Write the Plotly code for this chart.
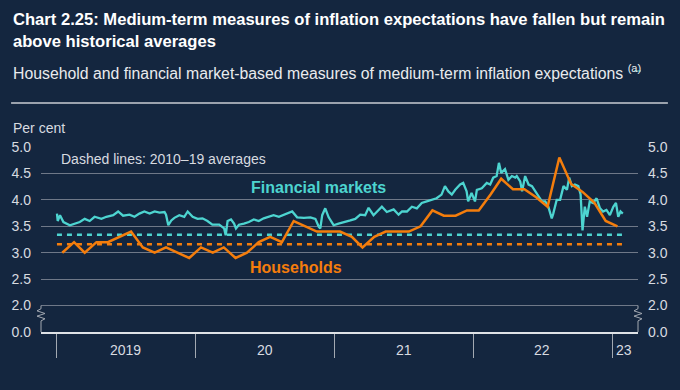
import plotly.graph_objects as go

# ---------------- data ----------------
hh_months = [f"{y}-{m:02d}-15" for y in range(2019, 2023) for m in range(1, 13)] + ["2023-01-15"]
hh_values = [3.0, 3.2, 3.0, 3.2, 3.2, 3.3, 3.4, 3.1, 3.0, 3.1, 3.0, 2.9,
             3.1, 3.0, 3.1, 2.9, 3.0, 3.2, 3.3, 3.2, 3.6, 3.5, 3.4, 3.4,
             3.4, 3.3, 3.1, 3.3, 3.4, 3.4, 3.4, 3.5, 3.8, 3.7, 3.7, 3.8,
             3.8, 4.1, 4.4, 4.2, 4.2, 4.05, 3.87, 4.8, 4.3, 4.15, 3.95, 3.6,
             3.5]

fm_dates = [
    "2019-01-01", "2019-01-03", "2019-01-09", "2019-01-18", "2019-02-04", "2019-02-17", "2019-03-02",
    "2019-03-15", "2019-03-28", "2019-04-10", "2019-04-28", "2019-05-11", "2019-05-29", "2019-06-11",
    "2019-06-24", "2019-07-11", "2019-07-24", "2019-08-06", "2019-08-19", "2019-09-02", "2019-09-15",
    "2019-09-28", "2019-10-11", "2019-10-15", "2019-10-21", "2019-10-29", "2019-11-06", "2019-11-19",
    "2019-12-02", "2019-12-11", "2019-12-24",
    "2020-01-06", "2020-01-19", "2020-02-01", "2020-02-14", "2020-03-03", "2020-03-16", "2020-03-20",
    "2020-03-25", "2020-04-03", "2020-04-11", "2020-04-16", "2020-04-24", "2020-05-07", "2020-05-20",
    "2020-06-02", "2020-06-15", "2020-06-28", "2020-07-11", "2020-07-24", "2020-08-07", "2020-08-20",
    "2020-09-11", "2020-09-24", "2020-10-12", "2020-10-29", "2020-11-11", "2020-11-20", "2020-11-24",
    "2020-11-29", "2020-12-07", "2020-12-16", "2020-12-29",
    "2021-01-11", "2021-01-29", "2021-02-11", "2021-02-24", "2021-03-09", "2021-03-22", "2021-03-31",
    "2021-04-13", "2021-04-26", "2021-05-05", "2021-05-18", "2021-06-05", "2021-06-18", "2021-06-27",
    "2021-07-10", "2021-07-23", "2021-08-05", "2021-08-18", "2021-08-31", "2021-09-13", "2021-09-26",
    "2021-10-09", "2021-10-18", "2021-10-27", "2021-11-05", "2021-11-14", "2021-11-27", "2021-12-05",
    "2021-12-14", "2021-12-18", "2021-12-27",
    "2022-01-05", "2022-01-10", "2022-01-23", "2022-02-05", "2022-02-14", "2022-02-22", "2022-03-03",
    "2022-03-09", "2022-03-15", "2022-03-25", "2022-04-03", "2022-04-12", "2022-04-21", "2022-04-25",
    "2022-05-04", "2022-05-09", "2022-05-17", "2022-05-26", "2022-06-04", "2022-06-13", "2022-06-21",
    "2022-06-30", "2022-07-09", "2022-07-17", "2022-07-26", "2022-07-30", "2022-08-08", "2022-08-17",
    "2022-08-26", "2022-09-04", "2022-09-10", "2022-09-17", "2022-09-25", "2022-10-04", "2022-10-10",
    "2022-10-15", "2022-10-21", "2022-10-27", "2022-11-03", "2022-11-12", "2022-11-21", "2022-11-30",
    "2022-12-08", "2022-12-17", "2022-12-26",
    "2023-01-04", "2023-01-11", "2023-01-17", "2023-01-23", "2023-01-29"]
fm_values = [
    3.74, 3.60, 3.71, 3.58, 3.52, 3.55, 3.58,
    3.64, 3.60, 3.68, 3.64, 3.68, 3.71, 3.78,
    3.70, 3.72, 3.68, 3.74, 3.78, 3.74, 3.78,
    3.76, 3.77, 3.72, 3.52, 3.61, 3.66, 3.71,
    3.68, 3.78, 3.68,
    3.64, 3.65, 3.60, 3.53, 3.53, 3.46, 3.33,
    3.60, 3.63, 3.55, 3.46, 3.53, 3.55, 3.58,
    3.63, 3.60, 3.65, 3.68, 3.71, 3.68, 3.72,
    3.78, 3.67, 3.66, 3.67, 3.64, 3.49, 3.46,
    3.71, 3.84, 3.67, 3.52,
    3.55, 3.58, 3.61, 3.64, 3.72, 3.71, 3.85,
    3.71, 3.80, 3.87, 3.77, 3.82, 3.72, 3.78,
    3.78, 3.87, 3.84, 3.94, 3.97, 4.00, 4.03,
    4.10, 4.26, 4.16, 4.10, 4.19, 4.29, 4.32,
    4.16, 3.97, 4.13,
    3.97, 4.19, 4.22, 4.32, 4.29, 4.42, 4.45,
    4.70, 4.51, 4.58, 4.38, 4.45, 4.42, 4.45,
    4.35, 4.16, 4.45, 4.29, 4.26, 4.16, 4.06,
    3.97, 3.97, 3.87, 3.65, 3.74, 4.00, 4.00,
    4.26, 4.19, 4.42, 4.26, 4.29, 4.26, 4.10,
    3.42, 3.87, 3.68, 3.97, 3.94, 4.03, 3.84,
    3.78, 3.81, 3.71,
    3.87, 3.94, 3.68, 3.78, 3.74]

avg_period = ["2019-01-01", "2023-01-31"]
fm_avg = 3.34
hh_avg = 3.16

y_tick_vals = [1.5, 2.0, 2.5, 3.0, 3.5, 4.0, 4.5, 5.0]
y_tick_text = ["0.0", "2.0", "2.5", "3.0", "3.5", "4.0", "4.5", "5.0"]
year_ticks = ["2019-01-01", "2020-01-01", "2021-01-01", "2022-01-01", "2023-01-01"]
year_label_pos = ["2019-07-01", "2020-07-01", "2021-07-01", "2022-07-01", "2023-02-01"]
year_labels = ["2019", "20", "21", "22", "23"]

# ---------------- style ----------------
BG = "#14263f"
CYAN = "#4dd4d0"
ORANGE = "#f47d0c"
TXT = "#d8dbe0"
GRID = "#6f7888"
FONT = "Liberation Sans, Arial, sans-serif"
Y_MIN, Y_MAX = 1.5, 5.0
W, H = 680, 390
ML, MR, MT, MB = 39, 42, 147, 58
PW, PH = W - ML - MR, H - MT - MB


def px(x):
    return (x - ML) / PW


def py(y):
    return (H - MB - y) / PH


def yv(v):
    return (v - Y_MIN) / (Y_MAX - Y_MIN)


fig = go.Figure()
fig.add_trace(go.Scatter(x=avg_period, y=[fm_avg, fm_avg], mode="lines",
                         line=dict(color=CYAN, width=2.5, dash="5px,5px"), hoverinfo="skip"))
fig.add_trace(go.Scatter(x=avg_period, y=[hh_avg, hh_avg], mode="lines", yaxis="y2",
                         line=dict(color=ORANGE, width=2.5, dash="5px,5px"), hoverinfo="skip"))
fig.add_trace(go.Scatter(x=fm_dates, y=fm_values, mode="lines",
                         line=dict(color=CYAN, width=2.3), name="Financial markets"))
fig.add_trace(go.Scatter(x=hh_months, y=hh_values, mode="lines",
                         line=dict(color=ORANGE, width=2.5), name="Households"))

axis_common = dict(range=[Y_MIN, Y_MAX], tickvals=y_tick_vals, ticktext=y_tick_text,
                   tickfont=dict(size=14, color=TXT, family=FONT), zeroline=False,
                   showline=False, ticks="", ticklabelstandoff=9)

fig.update_layout(
    width=W, height=H,
    margin=dict(l=ML, r=MR, t=MT, b=MB, pad=0),
    paper_bgcolor=BG, plot_bgcolor=BG,
    showlegend=False,
    font=dict(family=FONT, color=TXT),
    xaxis=dict(type="date", range=["2018-11-20", "2023-03-10"],
               tickvals=year_ticks, showticklabels=False,
               ticks="outside", ticklen=24, tickcolor="#a3a9b2", tickwidth=1,
               showgrid=False, zeroline=False,
               showline=True, linecolor="#dfe2e6", linewidth=2),
    yaxis=dict(**axis_common, showgrid=True, gridcolor=GRID, gridwidth=1.3),
    yaxis2=dict(**axis_common, overlaying="y", side="right", showgrid=False),
)

annotations = [
    dict(text="<b>Chart 2.25: Medium-term measures of inflation expectations have fallen but remain</b>",
         x=px(9), y=py(19), font=dict(size=16.6, color="#ffffff")),
    dict(text="<b>above historical averages</b>", x=px(9), y=py(41), font=dict(size=16.6, color="#ffffff")),
    dict(text="Household and financial market-based measures of medium-term inflation expectations <sup>(a)</sup>",
         x=px(9), y=py(72), font=dict(size=15.8, color="#e9ebee")),
    dict(text="Per cent", x=px(9), y=py(128), font=dict(size=14, color=TXT)),
]
for a in annotations:
    a.update(xref="paper", yref="paper", xanchor="left", yanchor="middle", showarrow=False)
fig.update_layout(annotations=annotations)

fig.add_annotation(text="Dashed lines: 2010–19 averages", xref="paper", yref="paper",
                   x=px(57), y=py(159), xanchor="left", yanchor="middle", showarrow=False,
                   font=dict(size=14, color=TXT))
fig.add_annotation(text="<b>Financial markets</b>", xref="paper", yref="paper",
                   x=px(317), y=py(187), xanchor="center", yanchor="middle", showarrow=False,
                   font=dict(size=16, color=CYAN))
fig.add_annotation(text="<b>Households</b>", xref="paper", yref="paper",
                   x=px(295), y=py(267), xanchor="center", yanchor="middle", showarrow=False,
                   font=dict(size=16, color=ORANGE))
for pos, lab in zip(year_label_pos, year_labels):
    fig.add_annotation(text=lab, x=pos, xref="x", y=py(350), yref="paper",
                       xanchor="center", yanchor="middle", showarrow=False,
                       font=dict(size=14, color=TXT))

# separator line under subtitle
fig.add_shape(type="line", xref="paper", yref="paper", x0=px(9), x1=px(668), y0=py(103), y1=py(103),
              line=dict(color="#c9cdd3", width=1.5))
# footnote link underline under "(a)"
fig.add_shape(type="line", xref="paper", yref="paper", x0=px(634), x1=px(641), y0=py(71), y1=py(71),
              line=dict(color=CYAN, width=1))

# axis-break zigzags joining 2.0 and 0.0
w = 4 / PW
for x0 in (0.0, 1.0):
    pts = [(x0, yv(2.0)), (x0, yv(1.94)), (x0 - w, yv(1.90)), (x0 + w, yv(1.85)),
           (x0 - w, yv(1.80)), (x0 + w, yv(1.75)), (x0, yv(1.71)), (x0, yv(1.5))]
    path = "M " + " L ".join(f"{a:.5f},{b:.5f}" for a, b in pts)
    fig.add_shape(type="path", path=path, xref="paper", yref="paper",
                  line=dict(color="#a3a9b2", width=1))

fig.write_html("out.html", config={"displayModeBar": False},
               post_script="document.body.style.margin='0px';document.body.style.background='" + BG + "';")
